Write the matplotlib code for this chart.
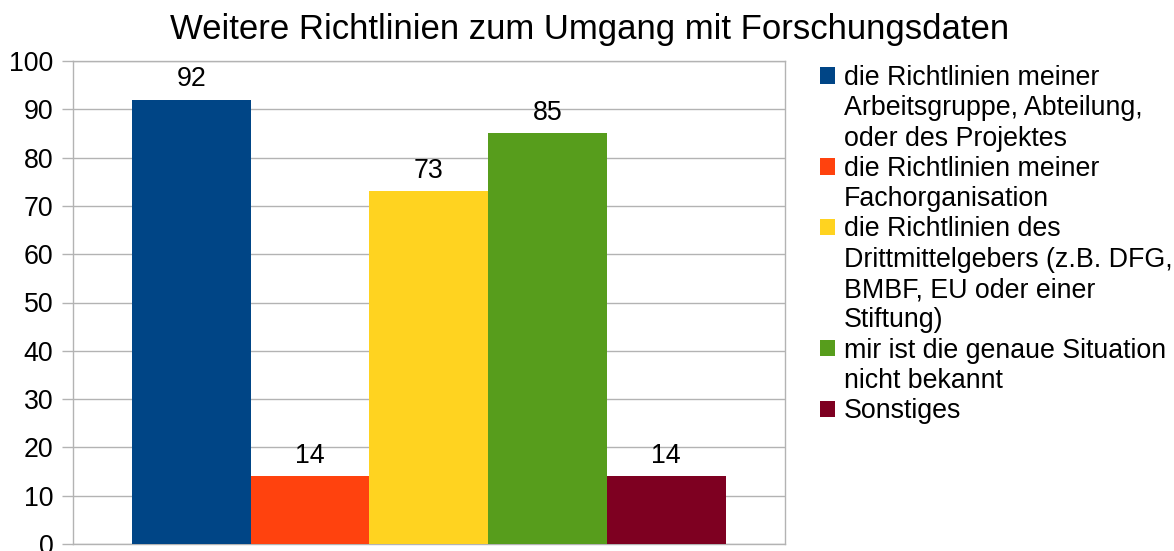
import matplotlib
matplotlib.use("Agg")
import matplotlib.pyplot as plt
from matplotlib.patches import Rectangle

plt.rcParams['font.family'] = ['Liberation Sans', 'DejaVu Sans']

title = "Weitere Richtlinien zum Umgang mit Forschungsdaten"
series_lines = [
    ["die Richtlinien meiner", "Arbeitsgruppe, Abteilung,", "oder des Projektes"],
    ["die Richtlinien meiner", "Fachorganisation"],
    ["die Richtlinien des", "Drittmittelgebers (z.B. DFG,", "BMBF, EU oder einer", "Stiftung)"],
    ["mir ist die genaue Situation", "nicht bekannt"],
    ["Sonstiges"],
]
values = [92, 14, 73, 85, 14]
colors = ["#004586", "#ff420e", "#ffd320", "#579d1c", "#7e0021"]
yticks = [0, 10, 20, 30, 40, 50, 60, 70, 80, 90, 100]

W, H = 1174, 551
fig = plt.figure(figsize=(W / 100, H / 100), dpi=100)
ax = fig.add_axes([72.7 / W, 1 - 544 / H, (785 - 72.7) / W, (544 - 61) / H])

grid_c = "#b3b3b3"
fs = 19.3

bars = []
for i, (v, c) in enumerate(zip(values, colors)):
    b = ax.bar(i, v, width=1.0, color=c, zorder=3)
    ax.bar_label(b, labels=[str(v)], padding=5.5, fontsize=fs, color="black")
    bars.append(b)

ax.set_xlim(-1, 5)
ax.set_ylim(0, 100)
ax.set_yticks(yticks)
ax.set_xticks([])
ax.yaxis.grid(True, color=grid_c, linewidth=1, zorder=0)
ax.tick_params(axis='y', length=8, width=1, color=grid_c, labelsize=fs, pad=6)
for s in ax.spines.values():
    s.set_color(grid_c)
    s.set_linewidth(1)

fig.text(590 / W, 1 - 30 / H, title, ha='center', va='center', fontsize=25)

handles, labels = [], []
for b, lines in zip(bars, series_lines):
    for j, line in enumerate(lines):
        if j == 0:
            handles.append(b[0])
        else:
            handles.append(Rectangle((0, 0), 1, 1, fill=False, edgecolor='none', visible=False))
        labels.append(line)

leg = fig.legend(handles, labels, loc='upper left', bbox_to_anchor=(820 / W, 1 - 65 / H),
                 frameon=False, fontsize=fs, borderpad=0, borderaxespad=0,
                 handlelength=0.56, handleheight=0.56, handletextpad=0.32,
                 labelspacing=0.16)

fig.savefig("out.png", dpi=100)
